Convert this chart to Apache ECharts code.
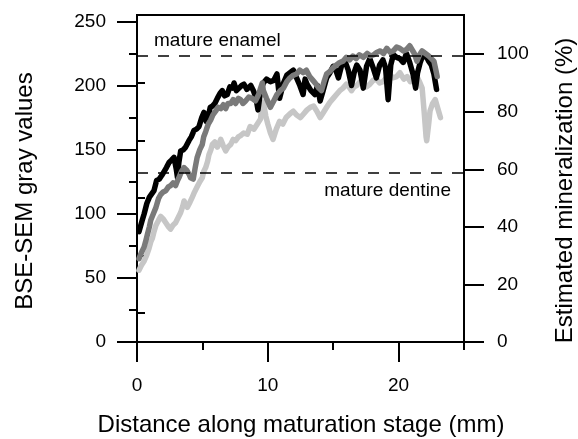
<!DOCTYPE html>
<html><head><meta charset="utf-8">
<script src="https://cdn.jsdelivr.net/npm/echarts@6/dist/echarts.min.js"></script>
<style>html,body{margin:0;padding:0;background:#fff}#c{width:578px;height:439px}</style>
</head><body><div id="c"></div>
<script>
// ---- data (distance in mm, BSE-SEM gray value) ----
const blackX = [0.15,0.4,0.55,0.75,0.95,1.1,1.3,1.5,1.7,1.9,2.05,2.25,2.45,2.65,2.83,3.0,3.1,3.2,3.34,3.55,3.72,3.97,4.15,4.36,4.55,4.74,4.95,5.12,5.3,5.45,5.6,5.76,5.95,6.14,6.35,6.52,6.7,6.9,7.1,7.3,7.42,7.6,7.8,8.0,8.18,8.4,8.7,8.9,9.1,9.25,9.45,9.66,9.9,10.2,10.45,10.7,10.9,11.2,11.45,11.7,11.95,12.2,12.45,12.7,12.85,13.0,13.3,13.6,13.8,14.0,14.2,14.5,14.75,15.0,15.2,15.4,15.65,15.9,16.15,16.4,16.6,16.8,17.05,17.3,17.55,17.8,18.05,18.3,18.55,18.8,19.0,19.2,19.4,19.6,19.85,20.1,20.35,20.6,20.85,21.1,21.3,21.45,21.65,21.8,22.05,22.3,22.5,22.7,22.9];
const blackY = [86,95,100,108,113,112,118,126,127,130,131,136,140,142,144,135,128,140,149,150,152,157,160,165,166,168,175,179,172,176,183,184,186,190,194,196,192,193,199,198,202,196,198,200,201,197,200,196,190,181,196,202,205,203,204,209,190,202,208,210,212,206,200,193,205,201,196,193,200,188,195,206,210,215,212,206,216,219,212,200,210,216,212,198,215,221,214,206,216,220,214,189,216,224,222,221,218,225,218,209,198,210,218,222,224,219,216,209,197];

const darkX = [0.15,0.35,0.54,0.7,0.8,0.95,1.05,1.25,1.45,1.65,1.81,2.0,2.2,2.4,2.57,2.75,2.95,3.1,3.2,3.4,3.6,3.8,3.97,4.1,4.3,4.45,4.6,4.8,4.99,5.1,5.25,5.45,5.63,5.8,6.01,6.2,6.4,6.6,6.78,6.95,7.16,7.35,7.54,7.75,7.92,8.1,8.3,8.55,8.8,9.05,9.3,9.45,9.58,9.66,9.9,10.2,10.45,10.7,10.95,11.2,11.45,11.7,11.95,12.2,12.45,12.7,12.95,13.2,13.45,13.7,13.9,14.1,14.3,14.5,14.75,15.0,15.25,15.5,15.75,16.0,16.25,16.5,16.75,17.0,17.3,17.6,17.85,18.1,18.35,18.6,18.85,19.1,19.35,19.6,19.85,20.1,20.35,20.6,20.85,21.0,21.2,21.4,21.6,21.8,22.05,22.3,22.5,22.7,22.85,22.95];
const darkY = [65,70,74,80,84,90,95,100,105,112,115,117,118,121,122,124,122,126,128,133,136,134,131,128,127,136,144,150,154,160,164,170,173,177,180,183,182,185,182,186,186,189,186,190,189,186,188,191,190,188,193,198,202,196,190,183,188,193,196,198,203,206,208,209,212,210,212,207,204,201,198,196,203,209,211,214,216,218,219,222,220,223,221,224,222,225,223,224,226,227,225,229,226,227,230,229,227,228,231,232,225,219,224,227,225,223,221,219,212,207];

const lightX = [0.15,0.35,0.54,0.75,0.92,1.05,1.18,1.3,1.45,1.65,1.81,2.0,2.2,2.4,2.57,2.75,2.95,3.15,3.34,3.5,3.6,3.75,3.85,4.05,4.23,4.4,4.6,4.8,4.99,5.1,5.25,5.4,5.5,5.65,5.76,5.95,6.14,6.3,6.4,6.6,6.78,6.95,7.16,7.35,7.54,7.75,7.92,8.15,8.43,8.65,8.94,9.2,9.45,9.55,9.66,9.85,10.0,10.2,10.4,10.65,10.9,11.15,11.4,11.7,11.95,12.2,12.5,12.75,13.0,13.25,13.5,13.75,14.0,14.25,14.5,14.75,15.0,15.25,15.5,15.75,16.0,16.2,16.4,16.6,16.8,17.05,17.3,17.55,17.8,18.05,18.3,18.55,18.8,19.05,19.3,19.55,19.85,20.1,20.4,20.65,20.9,21.15,21.4,21.6,21.8,21.95,22.1,22.15,22.3,22.4,22.6,22.8,23.0,23.2];
const lightY = [56,60,63,68,73,78,81,86,91,95,98,96,93,90,88,91,93,97,101,106,110,107,105,109,113,117,121,125,128,133,136,141,146,150,154,156,152,155,158,153,149,152,154,158,157,160,161,163,162,168,166,170,174,185,187,176,170,163,158,166,172,170,175,178,180,177,175,178,181,183,184,180,175,179,183,187,190,193,196,198,201,199,196,199,200,203,202,199,201,204,205,202,203,206,209,206,207,210,205,207,203,206,207,203,198,180,160,157,170,180,186,189,182,175];

const refValues = [223, 132];
const refLabels = ['mature enamel', 'mature dentine'];

const leftMajor = [0, 50, 100, 150, 200, 250];
const leftMinor = [25, 75, 125, 175, 225];
const rightMajor = [0, 20, 40, 60, 80, 100];
const rightMinor = [10, 30, 50, 70, 90];
const xMajor = [0, 10, 20];
const xMinor = [5, 15, 25];

const grayMax = 255;
const grayAtFullMineral = 224.5;

const FONT = '"Liberation Sans", Arial, Helvetica, sans-serif';
const zip = (a, b) => a.map((v, i) => [v, b[i]]);

const chart = echarts.init(document.getElementById('c'), null, {renderer: 'canvas'});
const tickStyle = {color: '#000', width: 2};
const labelStyle = {fontSize: 19, color: '#000', fontFamily: FONT};
const LW = 5.5;

chart.setOption({
  animation: false,
  backgroundColor: '#fff',
  grid: {left: 137, right: 114, top: 15, bottom: 97, containLabel: false, outerBoundsMode: 'none',
         show: true, borderColor: '#000', borderWidth: 2, backgroundColor: 'transparent'},
  xAxis: [
    {type: 'value', min: 0, max: 25, position: 'bottom',
     axisLine: {show: true, onZero: false, lineStyle: tickStyle},
     axisTick: {show: true, customValues: xMajor, length: 20, lineStyle: tickStyle},
     axisLabel: Object.assign({customValues: xMajor, margin: 34}, labelStyle),
     splitLine: {show: false}},
    {type: 'value', min: 0, max: 25, position: 'bottom',
     axisLine: {show: false},
     axisTick: {show: true, customValues: xMinor, length: 8, lineStyle: tickStyle},
     axisLabel: {show: false}, splitLine: {show: false}}
  ],
  yAxis: [
    {type: 'value', min: 0, max: grayMax, position: 'left',
     axisLine: {show: true, onZero: false, lineStyle: tickStyle},
     axisTick: {show: true, customValues: leftMajor, length: 20, lineStyle: tickStyle},
     axisLabel: Object.assign({customValues: leftMajor, margin: 31}, labelStyle),
     splitLine: {show: false}},
    {type: 'value', min: 0, max: grayMax / grayAtFullMineral * 100, position: 'right',
     axisLine: {show: true, onZero: false, lineStyle: tickStyle},
     axisTick: {show: true, customValues: rightMajor, length: 20, lineStyle: tickStyle},
     axisLabel: Object.assign({customValues: rightMajor, margin: 33}, labelStyle),
     splitLine: {show: false}},
    {type: 'value', min: 0, max: grayMax, position: 'left',
     axisLine: {show: false},
     axisTick: {show: true, customValues: leftMinor, length: 8, lineStyle: tickStyle},
     axisLabel: {show: false}, splitLine: {show: false}},
    {type: 'value', min: 0, max: grayMax / grayAtFullMineral * 100, position: 'right',
     axisLine: {show: false},
     axisTick: {show: true, customValues: rightMinor, length: 8, lineStyle: tickStyle},
     axisLabel: {show: false}, splitLine: {show: false}}
  ],
  series: [
    {type: 'line', name: 'light', data: zip(lightX, lightY), showSymbol: false, symbol: 'none',
     lineStyle: {color: '#c6c6c6', width: LW, cap: 'round', join: 'round'}, z: 2,
     markLine: {
       silent: true, symbol: ['none', 'none'],
       lineStyle: {color: '#000', width: 1.5, type: [11, 10]},
       data: refValues.map((v, i) => ({
         yAxis: v,
         label: {show: true, formatter: refLabels[i],
                 position: i === 0 ? 'insideStartTop' : 'insideEndBottom',
                 distance: i === 0 ? [17, 6] : [13, 9],
                 fontSize: 19, color: '#000', fontFamily: FONT}
       }))
     }},
    {type: 'line', name: 'black', data: zip(blackX, blackY), showSymbol: false, symbol: 'none',
     lineStyle: {color: '#000', width: LW, cap: 'round', join: 'round'}, z: 3},
    {type: 'line', name: 'dark', data: zip(darkX, darkY), showSymbol: false, symbol: 'none',
     lineStyle: {color: '#7a7a7a', width: LW, cap: 'round', join: 'round'}, z: 4}
  ],
  graphic: [
    {type: 'text', x: 25, y: 191, rotation: Math.PI / 2,
     style: {text: 'BSE-SEM gray values', font: '24px ' + FONT, fill: '#000', align: 'center', verticalAlign: 'middle'}},
    {type: 'text', x: 565.5, y: 190.5, rotation: Math.PI / 2,
     style: {text: 'Estimated mineralization (%)', font: '24px ' + FONT, fill: '#000', align: 'center', verticalAlign: 'middle'}},
    {type: 'text', x: 301, y: 425,
     style: {text: 'Distance along maturation stage (mm)', font: '24px ' + FONT, fill: '#000', align: 'center', verticalAlign: 'middle'}}
  ]
});
</script></body></html>
